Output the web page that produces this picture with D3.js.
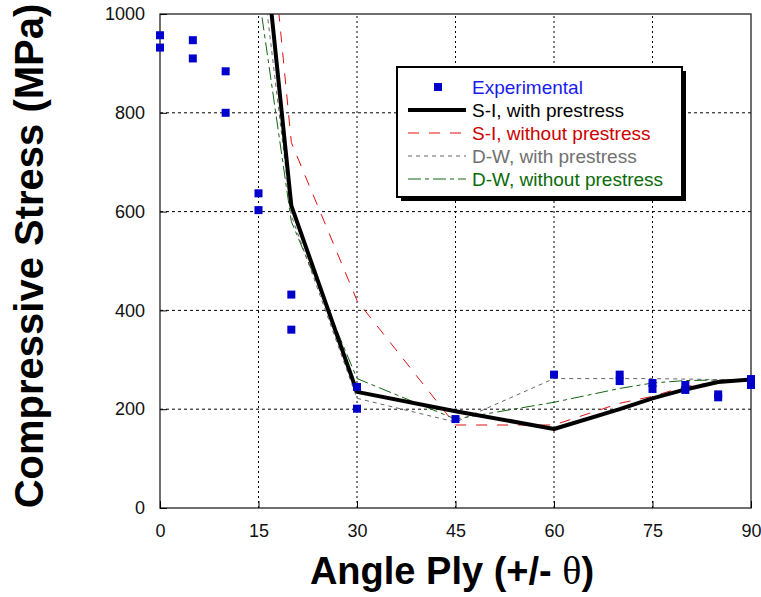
<!DOCTYPE html>
<html>
<head>
<meta charset="utf-8">
<script src="https://cdn.jsdelivr.net/npm/d3@7"></script>
<style>
  body { margin: 0; background: #fff; }
  svg { display: block; font-family: "Liberation Sans", Arial, sans-serif; }
</style>
</head>
<body>
<div id="chart"></div>
<script>
// Experimental points
const expAngles = [0, 0, 5, 5, 10, 10, 15, 15, 20, 20, 30, 30, 45, 60, 70, 70, 75, 75, 80, 80, 85, 85, 90, 90];
const expStress = [957, 932, 947, 910, 884, 800, 637, 603, 432, 361, 245, 201, 180, 270, 270, 257, 253, 241, 249, 239, 230, 224, 261, 249];

// Model curves (all share the same angles)
const modelAngles = [15, 20, 30, 45, 60, 70, 75, 80, 85, 90];
const siWithPre = [1258, 612, 235, 196, 160, 200, 222, 240, 255, 260];
const siWithoutPre = [1430, 740, 420, 168, 168, 212, 226, 246, 255, 258];
const dwWithPre = [1150, 592, 222, 174, 262, 262, 262, 261, 260, 260];
const dwWithoutPre = [1043, 580, 262, 180, 214, 242, 253, 258, 259, 260];

const xTicks = [0, 15, 30, 45, 60, 75, 90];
const yTicks = [0, 200, 400, 600, 800, 1000];

const series = [
  { name: 'S-I, with prestress', values: siWithPre, color: '#000000', width: 4, dash: null, text: '#000000' },
  { name: 'S-I, without prestress', values: siWithoutPre, color: '#dd1111', width: 1, dash: '11,10', text: '#cc0000' },
  { name: 'D-W, with prestress', values: dwWithPre, color: '#666666', width: 1, dash: '4,4', text: '#707070' },
  { name: 'D-W, without prestress', values: dwWithoutPre, color: '#116611', width: 1, dash: '13,4,4,4', text: '#0a6a0a' },
];

const W = 761, H = 597;
const svg = d3.select('#chart').append('svg').attr('width', W).attr('height', H);

const x = d3.scaleLinear().domain([0, 90]).range([160, 751]);
const y = d3.scaleLinear().domain([0, 1000]).range([508, 14]);

// Grid lines
const grid = svg.append('g');
grid.selectAll('.gx')
  .data(xTicks.slice(1, -1))
  .enter()
  .append('line')
  .attr('x1', (d) => x(d)).attr('x2', (d) => x(d))
  .attr('y1', y(0)).attr('y2', y(1000))
  .attr('stroke', '#000').attr('stroke-width', 1)
  .attr('stroke-dasharray', '2,3');
grid.selectAll('.gy')
  .data(yTicks.slice(1, -1))
  .enter()
  .append('line')
  .attr('y1', (d) => y(d)).attr('y2', (d) => y(d))
  .attr('x1', x(0)).attr('x2', x(90))
  .attr('stroke', '#000').attr('stroke-width', 1)
  .attr('stroke-dasharray', '3,3');

// Frame
svg.append('rect')
  .attr('x', x(0)).attr('y', y(1000))
  .attr('width', x(90) - x(0)).attr('height', y(0) - y(1000))
  .attr('fill', 'none').attr('stroke', '#222').attr('stroke-width', 1.3);

// Axes (inward ticks, labels)
const xAxis = d3.axisBottom(x).tickValues(xTicks).tickSize(-7).tickPadding(16).tickFormat(d3.format('d'));
const yAxis = d3.axisLeft(y).tickValues(yTicks).tickSize(-7).tickPadding(15).tickFormat(d3.format('d'));

const gx = svg.append('g').attr('transform', `translate(0,${y(0)})`).call(xAxis);
const gy = svg.append('g').attr('transform', `translate(${x(0)},0)`).call(yAxis);
[gx, gy].forEach((g) => {
  g.select('.domain').remove();
  g.selectAll('.tick line').attr('stroke', '#000');
  g.selectAll('text').attr('font-size', '18px').attr('fill', '#111')
    .attr('font-family', '"Liberation Sans", Arial, sans-serif');
});

// Clip for model curves
svg.append('defs').append('clipPath').attr('id', 'plotClip')
  .append('rect')
  .attr('x', x(0)).attr('y', y(1000))
  .attr('width', x(90) - x(0)).attr('height', y(0) - y(1000));

const line = d3.line()
  .x((d) => x(d[0]))
  .y((d) => y(d[1]));

const curves = svg.append('g').attr('clip-path', 'url(#plotClip)');
// draw thin ones first, thick black last
[series[3], series[2], series[1], series[0]].forEach((s) => {
  curves.append('path')
    .datum(modelAngles.map((a, i) => [a, s.values[i]]))
    .attr('d', line)
    .attr('fill', 'none')
    .attr('stroke', s.color)
    .attr('stroke-width', s.width)
    .attr('stroke-dasharray', s.dash)
    .attr('stroke-linejoin', 'round');
});

// Experimental squares
const sq = 8;
svg.append('g')
  .selectAll('rect')
  .data(expAngles.map((a, i) => [a, expStress[i]]))
  .enter()
  .append('rect')
  .attr('x', (d) => x(d[0]) - sq / 2)
  .attr('y', (d) => y(d[1]) - sq / 2)
  .attr('width', sq)
  .attr('height', sq)
  .attr('fill', '#0000cc');

// Legend
const lg = svg.append('g');
const lx = 397, ly = 67, lw = 285, lh = 130;
lg.append('rect')
  .attr('x', lx + 4).attr('y', ly + 4).attr('width', lw).attr('height', lh)
  .attr('fill', '#000');
lg.append('rect')
  .attr('x', lx).attr('y', ly).attr('width', lw).attr('height', lh)
  .attr('fill', '#fff').attr('stroke', '#000').attr('stroke-width', 2);

const rowY = (i) => 87 + i * 23;
lg.append('rect')
  .attr('x', 434).attr('y', rowY(0) - 4).attr('width', 8).attr('height', 8)
  .attr('fill', '#0000cc');
lg.append('text')
  .attr('x', 472).attr('y', rowY(0) + 7)
  .attr('font-size', '19px').attr('fill', '#1a1aee')
  .text('Experimental');

series.forEach((s, i) => {
  const yy = rowY(i + 1);
  lg.append('line')
    .attr('x1', 408).attr('x2', 466)
    .attr('y1', yy).attr('y2', yy)
    .attr('stroke', s.color)
    .attr('stroke-width', s.width)
    .attr('stroke-dasharray', s.dash);
  lg.append('text')
    .attr('x', 472).attr('y', yy + 7)
    .attr('font-size', '19px').attr('fill', s.text)
    .text(s.name);
});

// Axis titles
const xTitle = svg.append('text')
  .attr('x', 452).attr('y', 584)
  .attr('text-anchor', 'middle')
  .attr('font-size', '38px').attr('font-weight', 'bold').attr('fill', '#000');
xTitle.append('tspan').text('Angle Ply (+/- ');
xTitle.append('tspan')
  .attr('font-weight', 'normal')
  .attr('font-size', '40px')
  .attr('font-family', '"Liberation Serif", "DejaVu Serif", serif')
  .text('θ');
xTitle.append('tspan').text(')');

svg.append('text')
  .attr('transform', 'translate(43,256) rotate(-90)')
  .attr('text-anchor', 'middle')
  .attr('font-size', '40px').attr('font-weight', 'bold').attr('fill', '#000')
  .text('Compressive Stress (MPa)');
</script>
</body>
</html>
